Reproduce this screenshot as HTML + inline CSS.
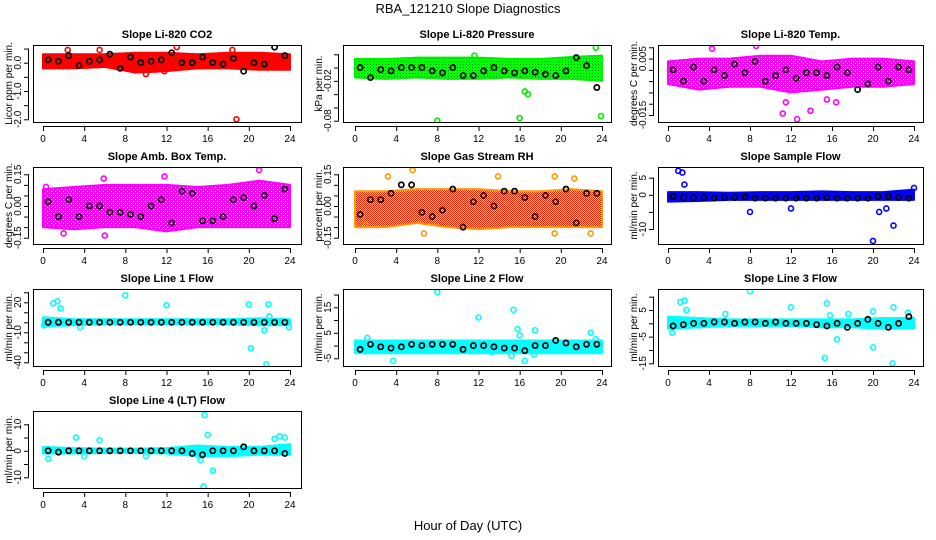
<!DOCTYPE html>
<html><head><meta charset="utf-8">
<style>
html,body{margin:0;padding:0;background:#fff;}
svg{display:block;font-family:"Liberation Sans",sans-serif;}
</style></head>
<body>
<svg id="chart" width="936" height="540" viewBox="0 0 936 540">
<defs>
<pattern id="patRH" width="2" height="2" patternUnits="userSpaceOnUse"><rect width="2" height="2" fill="#ffee00"/><rect x="0" y="0" width="1" height="1" fill="#ff2000"/><rect x="1" y="1" width="1" height="1" fill="#ff2000"/></pattern>
<pattern id="patG" width="3" height="3" patternUnits="userSpaceOnUse"><rect width="3" height="3" fill="#00ff00"/><rect x="1" y="1" width="1" height="1" fill="#007700"/></pattern>
<pattern id="patM" width="4" height="4" patternUnits="userSpaceOnUse"><rect width="4" height="4" fill="#ff00ff"/><rect x="1" y="1" width="1" height="1" fill="#ffffff"/><rect x="3" y="3" width="1" height="1" fill="#ffffff"/></pattern>
</defs>
<text x="468" y="13" text-anchor="middle" font-size="13">RBA_121210  Slope Diagnostics</text>
<text x="468" y="530" text-anchor="middle" font-size="13">Hour of Day (UTC)</text>
</svg>
<script>
// shared x data
const xTicks = [0,4,8,12,16,20,24];
const bandHours = [0,3,6,9,12,15,18,21,24];
const blackHours = [0.5,1.5,2.5,3.5,4.5,5.5,6.5,7.5,8.5,9.5,10.5,11.5,12.5,13.5,14.5,15.5,16.5,17.5,18.5,19.5,20.5,21.5,22.5,23.5];

// Panel 1: CO2
const co2BandHi = [0.3,0.3,0.3,0.35,0.35,0.3,0.35,0.35,0.3];
const co2BandLo = [-0.2,-0.2,-0.15,-0.35,-0.3,-0.2,-0.2,-0.25,-0.25];
const co2OutX = [2.4,5.5,13,18.8,18.4,10,11.8];
const co2OutY = [0.45,0.45,0.55,-2.0,0.45,-0.4,-0.3];
const co2Black = [0.1,0.05,0.25,-0.1,0.05,0.1,0.3,-0.2,0.2,0.0,0.05,0.1,0.35,0.0,0.0,0.2,0.0,-0.05,0.15,-0.3,0.0,-0.05,0.55,0.25];
const co2Ticks = [0.5,0,-0.5,-1,-1.5,-2];
const co2Labels = ["","0.0","","-1.0","","-2.0"];

// Panel 2: Pressure
const prBandHi = [0.013,0.013,0.015,0.015,0.015,0.013,0.013,0.016,0.018];
const prBandLo = [-0.015,-0.017,-0.015,-0.017,-0.017,-0.015,-0.017,-0.017,-0.02];
const prOutX = [8,16,23.4,23.9,16.8,16.5,11.6];
const prOutY = [-0.08,-0.076,0.03,-0.073,-0.04,-0.036,0.018];
const prBlack = [0.0,-0.015,-0.003,-0.005,-0.0,0.0,0.0,-0.005,-0.008,0.0,-0.012,-0.012,-0.005,0.0,-0.005,-0.008,-0.005,-0.007,-0.01,-0.012,-0.005,0.015,0.003,-0.03];
const prTicks = [0.02,0,-0.02,-0.04,-0.06,-0.08];
const prLabels = ["","","-0.02","","","-0.08"];

// Panel 3: Li-820 Temp
const ltBandHi = [0.004,0.005,0.005,0.006,0.006,0.004,0.005,0.005,0.004];
const ltBandLo = [-0.004,-0.006,-0.005,-0.005,-0.007,-0.006,-0.005,-0.005,-0.004];
const ltOutX = [8.2,12.6,11.2,11.5,13.9,16.4,15.5,4.3,8.6];
const ltOutY = [0.0145,-0.0165,-0.0145,-0.0105,-0.0135,-0.0105,-0.0095,0.0085,0.0095];
const ltBlack = [0.001,-0.003,0.002,-0.003,0.001,-0.001,0.003,0.0,0.004,-0.003,-0.001,0.001,-0.002,-0.0,0.0,-0.001,0.002,0.0,-0.006,-0.004,0.002,-0.003,0.002,0.001];
const ltTicks = [0.009,0.005,0.001,-0.003,-0.007,-0.011,-0.015];
const ltLabels = ["","0.005","","","","","-0.015"];

// Panel 4: Amb Box Temp
const abBandHi = [0.08,0.09,0.1,0.1,0.1,0.09,0.1,0.12,0.1];
const abBandLo = [-0.1,-0.11,-0.1,-0.1,-0.12,-0.1,-0.1,-0.1,-0.1];
const abOutX = [21,11.6,6,2,0.3,11.8,5.9];
const abOutY = [0.17,-0.21,-0.14,-0.13,0.09,0.14,0.13];
const abBlack = [0.02,-0.05,0.03,-0.05,0.0,0.0,-0.03,-0.03,-0.04,-0.05,0.0,0.03,-0.08,0.07,0.06,-0.07,-0.07,-0.05,0.03,0.04,0.0,0.05,-0.06,0.08];
const abTicks = [0.15,0.1,0.05,0,-0.05,-0.1,-0.15];
const abLabels = ["0.15","","","0.00","","","-0.15"];

// Panel 5: Gas Stream RH
const rhBandHi = [0.07,0.07,0.08,0.08,0.08,0.07,0.07,0.08,0.07];
const rhBandLo = [-0.1,-0.1,-0.08,-0.1,-0.11,-0.1,-0.1,-0.1,-0.1];
const rhOutX = [5.6,2,3.2,13.9,19.4,6.7,19.4,22.9,1,21.3];
const rhOutY = [0.17,-0.2,0.14,0.14,0.14,-0.13,-0.13,-0.13,-0.09,0.13];
const rhBlack = [-0.04,0.03,0.03,0.06,0.1,0.1,-0.03,-0.05,-0.02,0.08,-0.1,0.02,0.05,0.0,0.07,0.07,0.04,-0.05,0.05,0.02,0.08,-0.08,0.06,0.06];
const rhTicks = [0.15,0.1,0.05,0,-0.05,-0.1,-0.15];
const rhLabels = ["0.15","","","0.00","","","-0.15"];

// Panel 6: Sample Flow
const sfBandHi = [0.8,0.8,0.6,0.8,0.8,1.0,0.8,0.8,1.5];
const sfBandLo = [-2,-1.8,-1.5,-1.5,-1.5,-1.5,-1.5,-1.5,-1.5];
const sfOutX = [1,1.4,1.6,8,12,20,20.6,22,21.3,24];
const sfOutY = [7,6.5,3,-5,-4,-13.5,-5,-9,-4,2];
const sfBlack = [-0.5,-0.8,-0.8,-0.8,-1,-0.8,-0.8,-0.6,-1,-1,-1,-1,-1,-1,-1,-0.8,-1,-1,-1,-1,-0.5,-0.5,-0.8,-1];
const sfTicks = [5,0,-5,-10];
const sfLabels = ["5","0","","-10"];

// Panel 7: Line 1 Flow
const l1BandHi = [5,3,3,3,3,3,3,4,3];
const l1BandLo = [-4,-3,-2,-2,-2,-2,-2,-3,-3];
const l1OutX = [8,1,1.4,1.7,12,20,20.2,21.7,21.9,22,21.5,3.6,0.1,23.9];
const l1OutY = [27,19,21,14,17,18,-26,-42,18,6,-8,-5,-3,-5];
const l1Black = [0,0,0,0,0,0,0,0,0,0,0,0,0,0,0,0,0,0,0,0,0,0,0,0];
const l1Ticks = [30,20,10,0,-10,-20,-30,-40];
const l1Labels = ["","20","","","-10","","","-40"];

// Panel 8: Line 2 Flow
const l2BandHi = [2,2,2,2,2,2,2,2,2];
const l2BandLo = [-3,-3,-3,-3,-3,-3,-3,-3,-3];
const l2OutX = [8,12,15.4,15.8,16,17.5,15.2,16.5,3.7,17.4,22.9,23.4,13.3,1.2];
const l2OutY = [21,11,14,6.5,4,6,-4,-6,-6,-3.5,5,2.5,-2.5,3];
const l2Black = [-1.5,0.5,-0.5,-1,-0.5,0.5,0,0.5,0.5,0.5,-1.5,0,0,-0.5,-1,-1,-2,0,0,2,1,-0.5,0.5,0.5];
const l2Ticks = [20,15,10,5,0,-5];
const l2Labels = ["","15","","5","","-5"];

// Panel 9: Line 3 Flow
const l3BandHi = [2.5,2,1.5,1.5,1.5,1.5,1.5,2,2];
const l3BandLo = [-2,-1.5,-1,-1,-1,-1.5,-1.5,-2,-2];
const l3OutX = [8,1.2,1.6,1.8,12,15.5,15.3,16.5,20,21.9,22,20,17.6,0.4,15.8,5.6,23.4];
const l3OutY = [12,8,8.5,5,6,7.5,-13,-6,-9,-15,6,4.5,3.5,-3.5,3,3.5,4];
const l3Black = [-1,-0.5,0,0,0.5,0.5,0,0.5,0.5,0,0.5,0,0,0,-0.5,-1,0,-1.5,0,1.5,0,-1.5,0,2.5];
const l3Ticks = [10,5,0,-5,-10,-15];
const l3Labels = ["","5","","-5","","-15"];

// Panel 10: Line 4 (LT) Flow
const l4BandHi = [1.5,1,0.8,0.8,1,2,1.5,1.5,2.5];
const l4BandLo = [-1,-1,-0.8,-0.8,-1,-2,-2,-1.5,-1.5];
const l4OutX = [15.7,15.6,16,16.5,3.2,5.5,0.5,23,23.5,22.5,4,10,15.3];
const l4OutY = [13.5,-13.5,6,-7.5,5,4,-3,5.5,5,4.5,-2,-2,-3.5];
const l4Black = [0,-0.5,0,0,0,0,0,0,0,0,0,0,0,0,-1,-1.5,0,0,0,1.5,0,0,0,-1];
const l4Ticks = [10,5,0,-5,-10];
const l4Labels = ["10","","0","","-10"];

const svg = document.getElementById('chart');
const NS = 'http://www.w3.org/2000/svg';
function mk(tag, attrs, parent){
  const e = document.createElementNS(NS, tag);
  for (const k in attrs) e.setAttribute(k, attrs[k]);
  (parent||svg).appendChild(e);
  return e;
}

const cols = [{l:33,r:301,x0:43,x1:290,yt:8},{l:343,r:611,x0:355,x1:602,yt:318},{l:658,r:923,x0:668,x1:914,yt:633}];
const rows = [45,167,289,411];
const boxH = 77;

const panels = [
 {name:'co2',title:'Slope Li-820 CO2',ylab:'Licor ppm per min.',col:0,row:0,color:'#ff0000',fill:'#ff0000',hi:co2BandHi,lo:co2BandLo,ox:co2OutX,oy:co2OutY,bk:co2Black,ticks:co2Ticks,labels:co2Labels,ref:[0,62.7,-2,119.3]},
 {name:'pressure',title:'Slope Li-820 Pressure',ylab:'kPa per min.',col:1,row:0,color:'#00ee00',fill:'url(#patG)',hi:prBandHi,lo:prBandLo,ox:prOutX,oy:prOutY,bk:prBlack,ticks:prTicks,labels:prLabels,ref:[0.02,54.3,-0.08,120.7]},
 {name:'li820-temp',title:'Slope Li-820 Temp.',ylab:'degrees C per min.',col:2,row:0,color:'#ff00ff',fill:'url(#patM)',hi:ltBandHi,lo:ltBandLo,ox:ltOutX,oy:ltOutY,bk:ltBlack,ticks:ltTicks,labels:ltLabels,ref:[0.009,47.3,-0.015,115]},
 {name:'amb-box-temp',title:'Slope Amb. Box Temp.',ylab:'degrees C per min.',col:0,row:1,color:'#ff00ff',fill:'url(#patM)',hi:abBandHi,lo:abBandLo,ox:abOutX,oy:abOutY,bk:abBlack,ticks:abTicks,labels:abLabels,ref:[0.15,174.3,-0.15,237.7]},
 {name:'gas-stream-rh',title:'Slope Gas Stream RH',ylab:'percent per min.',col:1,row:1,color:'#ff9900',fill:'url(#patRH)',hi:rhBandHi,lo:rhBandLo,ox:rhOutX,oy:rhOutY,bk:rhBlack,ticks:rhTicks,labels:rhLabels,ref:[0.15,174.3,-0.15,237.7]},
 {name:'sample-flow',title:'Slope Sample Flow',ylab:'ml/min per min.',col:2,row:1,color:'#0000ff',fill:'#0000ff',hi:sfBandHi,lo:sfBandLo,ox:sfOutX,oy:sfOutY,bk:sfBlack,ticks:sfTicks,labels:sfLabels,ref:[5,177.7,-10,229]},
 {name:'line1-flow',title:'Slope Line 1 Flow',ylab:'ml/min per min.',col:0,row:2,color:'#00ffff',fill:'#00ffff',hi:l1BandHi,lo:l1BandLo,ox:l1OutX,oy:l1OutY,bk:l1Black,ticks:l1Ticks,labels:l1Labels,ref:[20,302.3,-40,362.3]},
 {name:'line2-flow',title:'Slope Line 2 Flow',ylab:'ml/min per min.',col:1,row:2,color:'#00ffff',fill:'#00ffff',hi:l2BandHi,lo:l2BandLo,ox:l2OutX,oy:l2OutY,bk:l2Black,ticks:l2Ticks,labels:l2Labels,ref:[15,307.3,-5,358.3]},
 {name:'line3-flow',title:'Slope Line 3 Flow',ylab:'ml/min per min.',col:2,row:2,color:'#00ffff',fill:'#00ffff',hi:l3BandHi,lo:l3BandLo,ox:l3OutX,oy:l3OutY,bk:l3Black,ticks:l3Ticks,labels:l3Labels,ref:[5,310,-15,363.3]},
 {name:'line4-flow',title:'Slope Line 4 (LT) Flow',ylab:'ml/min per min.',col:0,row:3,color:'#00ffff',fill:'#00ffff',hi:l4BandHi,lo:l4BandLo,ox:l4OutX,oy:l4OutY,bk:l4Black,ticks:l4Ticks,labels:l4Labels,ref:[10,424.3,-10,477.3]}
];

panels.forEach(p => {
  const c = cols[p.col], top = rows[p.row], bot = top + boxH;
  const g = mk('g', {});
  
  
  const xs = h => c.x0 + (h/24)*(c.x1 - c.x0);
  const ys = v => p.ref[1] + (v - p.ref[0]) * (p.ref[3] - p.ref[1]) / (p.ref[2] - p.ref[0]);

  const clipId = 'clip-' + p.name;
  const cp = mk('clipPath', {id:clipId}, g);
  mk('rect', {x:c.l, y:top, width:c.r-c.l, height:boxH}, cp);
  const plot = mk('g', {'clip-path':'url(#'+clipId+')'}, g);

  let pts = [];
  bandHours.forEach((h,i)=>pts.push(xs(h)+','+ys(p.hi[i])));
  for (let i=bandHours.length-1;i>=0;i--) pts.push(xs(bandHours[i])+','+ys(p.lo[i]));
  const band = mk('polygon', {points:pts.join(' '), fill:p.fill, stroke:p.color, 'stroke-width':2, 'stroke-linejoin':'round'}, plot);
  
  

  p.ox.forEach((h,i)=>{
    const o = mk('circle', {cx:xs(h), cy:ys(p.oy[i]), r:2.5, fill:'none', stroke:p.color, 'stroke-width':1.6}, plot);
    
    
  });
  blackHours.forEach((h,i)=>{
    const b = mk('circle', {cx:xs(h), cy:ys(p.bk[i]), r:2.6, fill:'none', stroke:'#000', 'stroke-width':1.7}, plot);
    
    
  });

  const box = mk('rect', {x:c.l+0.5, y:top+0.5, width:c.r-c.l, height:boxH, fill:'none', stroke:'#000', 'stroke-width':1}, g);
  
  

  const t = mk('text', {x:(c.l+c.r)/2, y:top-7, 'text-anchor':'middle', 'font-size':11, 'font-weight':'bold'}, g);
  t.textContent = p.title;
  
  

  mk('line', {x1:xs(0), x2:xs(24), y1:bot+4.5, y2:bot+4.5, stroke:'#000'}, g);
  xTicks.forEach(v=>{
    mk('line', {x1:xs(v)+0.5, x2:xs(v)+0.5, y1:bot+4, y2:bot+9, stroke:'#000'}, g);
    const tl = mk('text', {x:xs(v), y:bot+20, 'text-anchor':'middle', 'font-size':10}, g);
    tl.textContent = v;
    
    
  });

  const inb = p.ticks.filter(v=>ys(v)>=top-1 && ys(v)<=bot+1);
  mk('line', {x1:c.l-4.5, x2:c.l-4.5, y1:ys(inb[0]), y2:ys(inb[inb.length-1]), stroke:'#000'}, g);
  p.ticks.forEach((v,i)=>{
    const y = ys(v);
    if (y < top-1 || y > bot+1) return;
    mk('line', {x1:c.l-9, x2:c.l-4, y1:y+0.5, y2:y+0.5, stroke:'#000'}, g);
    if (p.labels[i]) {
      const yl = mk('text', {x:0, y:0, 'text-anchor':'middle', 'font-size':10, transform:'translate('+(c.l-12)+','+y+') rotate(-90)'}, g);
      yl.textContent = p.labels[i];
      
      
    }
  });
  const ya = mk('text', {x:0, y:0, 'text-anchor':'middle', 'font-size':10, transform:'translate('+(c.yt+4)+','+(top+boxH/2)+') rotate(-90)'}, g);
  ya.textContent = p.ylab;
  
  
});
</script>
</body></html>
